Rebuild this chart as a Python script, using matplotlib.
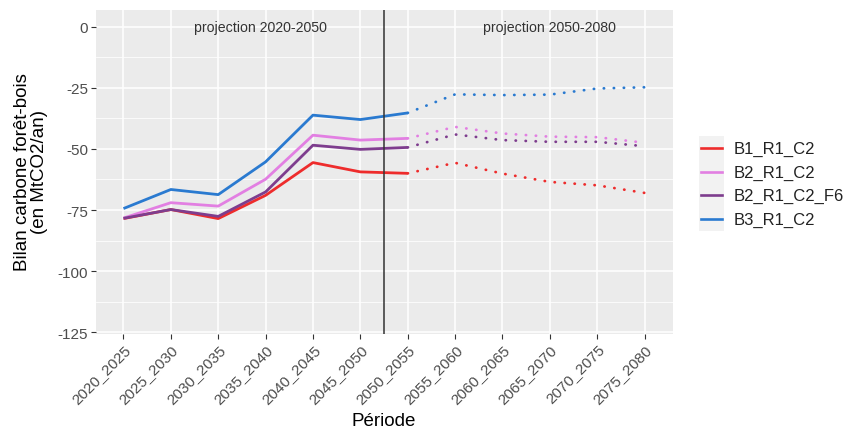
import matplotlib
matplotlib.use("Agg")
import matplotlib.pyplot as plt
from matplotlib.lines import Line2D
from matplotlib.patches import Rectangle
from matplotlib.transforms import ScaledTranslation

plt.rcParams['font.family'] = ['Liberation Sans', 'DejaVu Sans']

periods = ["2020_2025", "2025_2030", "2030_2035", "2035_2040", "2040_2045", "2045_2050",
           "2050_2055", "2055_2060", "2060_2065", "2065_2070", "2070_2075", "2075_2080"]

series_names = ["B1_R1_C2", "B2_R1_C2", "B2_R1_C2_F6", "B3_R1_C2"]

# values 2020_2025 .. 2075_2080 (MtCO2/an)
b1_r1_c2 = [-78.5, -74.8, -78.5, -69.0, -55.6, -59.4, -60.0, -55.7, -60.1, -63.5, -64.9, -68.0]
b2_r1_c2 = [-78.3, -72.0, -73.4, -62.4, -44.4, -46.4, -45.7, -41.0, -43.7, -45.0, -45.2, -47.5]
b2_r1_c2_f6 = [-78.4, -74.8, -77.6, -67.6, -48.5, -50.2, -49.4, -44.1, -46.4, -47.1, -47.1, -48.9]
b3_r1_c2 = [-74.4, -66.6, -68.7, -55.3, -36.2, -38.0, -35.3, -27.7, -28.0, -27.8, -25.3, -24.8]

colors = ["#EE2C2C", "#E27FE2", "#7E3D8E", "#2A7AD0"]
all_values = [b1_r1_c2, b2_r1_c2, b2_r1_c2_f6, b3_r1_c2]

split = 6  # index of 2050_2055 : solid before, dotted after

W, H = 848, 431
fig = plt.figure(figsize=(W / 100, H / 100), dpi=100)
ax = fig.add_axes([96 / W, 1 - 335 / H, (673 - 96) / W, (335 - 11) / H])

ax.set_facecolor("#EBEBEB")
for s in ax.spines.values():
    s.set_visible(False)

x = list(range(1, len(periods) + 1))

for vals, col in zip(all_values, colors):
    ax.plot(x[:split + 1], vals[:split + 1], color=col, lw=2.0, solid_capstyle='butt', zorder=3)
    ax.plot(x[split:], vals[split:], color=col, lw=2.0, linestyle=(0, (0.1, 3.5)),
            dash_capstyle='round', zorder=3)

ax.axvline(6.5, color="#333333", lw=1.1, zorder=4)

ax.text(3.9, 0, "projection 2020-2050", ha="center", va="center", fontsize=10.2, color="#333333")
ax.text(10.0, 0, "projection 2050-2080", ha="center", va="center", fontsize=10.2, color="#333333")

ax.set_xlim(0.42, 12.6)
ax.set_ylim(-125.7, 6.8)
ax.set_xticks(x)
ax.set_xticklabels(periods, rotation=45, ha="right", va="top", rotation_mode="anchor")
off = ScaledTranslation(8 / 100, -3 / 100, fig.dpi_scale_trans)
for lab in ax.get_xticklabels():
    lab.set_transform(lab.get_transform() + off)
yt = [0, -25, -50, -75, -100, -125]
ax.set_yticks(yt)
ax.set_yticklabels([str(v) for v in yt])
ax.set_yticks([-12.5, -37.5, -62.5, -87.5, -112.5], minor=True)
ax.grid(which="major", color="white", lw=1.1, zorder=0)
ax.grid(which="minor", axis="y", color="white", lw=0.55, zorder=0)
ax.set_axisbelow(True)
ax.tick_params(axis="both", which="major", color="#333333", length=3.5, width=0.8,
               labelsize=11, labelcolor="#4D4D4D", pad=2)
ax.tick_params(axis="both", which="minor", length=0)

fig.text(31 / W, 1 - 172 / H, "Bilan carbone forêt-bois\n(en MtCO2/an)", rotation=90,
         ha="center", va="center", fontsize=13.5, linespacing=1.05, multialignment="center")
fig.text(384 / W, 1 - 422 / H, "Période", ha="center", va="center", fontsize=13.5)

# legend (manual, ggplot style)
leg_y = [149, 173, 196, 220]
fig.add_artist(Rectangle((699 / W, 1 - 232 / H), 25 / W, 95 / H, transform=fig.transFigure,
                         facecolor="#F2F2F2", edgecolor="none"))
for yy, col, name in zip(leg_y, colors, series_names):
    fig.add_artist(Line2D([701 / W, 722 / W], [1 - yy / H, 1 - yy / H], color=col, lw=1.9,
                          transform=fig.transFigure))
    fig.text(734 / W, 1 - yy / H, name, ha="left", va="center", fontsize=12, color="#222222")

fig.savefig("out.png", dpi=100)
